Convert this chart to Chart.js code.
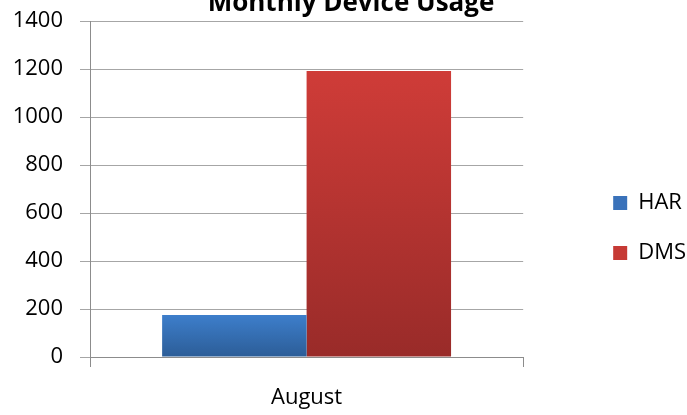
<!DOCTYPE html>
<html>
<head>
<meta charset="utf-8">
<script src="https://cdn.jsdelivr.net/npm/chart.js@4.4.1/dist/chart.umd.min.js"></script>
<style>
  html, body { margin: 0; padding: 0; background: #fff; }
  #wrap { width: 687px; height: 415px; overflow: hidden; position: relative; }
  #chart { position: absolute; left: 0; top: -25px; }
</style>
</head>
<body>
<div id="wrap"><canvas id="chart" width="687" height="440"></canvas></div>
<script>
// chart data
const categories = ['August'];
const harValues = [175];
const dmsValues = [1192];
const yTicks = [0, 200, 400, 600, 800, 1000, 1200, 1400];

const FONT = '"Open Sans", sans-serif';

// gradient per bar, top light -> bottom dark
function barFill(top, bottom, solid) {
    return function (ctx) {
        if (ctx.type !== 'data') return solid;
        const chart = ctx.chart;
        const y = chart.scales.y;
        if (!y) return solid;
        const y0 = y.getPixelForValue(0);
        const y1 = y.getPixelForValue(ctx.raw);
        const g = chart.ctx.createLinearGradient(0, y1, 0, y0);
        g.addColorStop(0, top);
        g.addColorStop(1, bottom);
        return g;
    };
}

// nudge the legend after layout so it sits lower, like the original
const legendNudge = {
    id: 'legendNudge',
    afterLayout: function (chart) {
        const lg = chart.legend;
        if (!lg) return;
        const dx = -6, dy = 33;
        lg.left += dx; lg.right += dx;
        lg.top += dy; lg.bottom += dy;
    }
};

var canvas = document.getElementById('chart');
var deviceChart = new Chart(canvas, {
    type: 'bar',
    data: {
        labels: categories,
        datasets: [{
            label: 'HAR',
            data: harValues,
            backgroundColor: barFill('#3d7ecb', '#2c5d97', '#3a72ba'),
            borderWidth: 0
        }, {
            label: 'DMS',
            data: dmsValues,
            backgroundColor: barFill('#cf3c38', '#992b29', '#c63a35'),
            borderWidth: 0
        }]
    },
    plugins: [legendNudge],
    options: {
        responsive: false,
        animation: false,
        layout: { padding: { left: 0, right: -15, top: 0, bottom: 0 } },
        datasets: {
            bar: { barPercentage: 1, categoryPercentage: 0.667 }
        },
        plugins: {
            title: {
                display: true,
                text: 'Monthly Device Usage',
                color: '#000',
                font: { family: FONT, size: 26, weight: 'bold' },
                padding: { top: 13, bottom: 2 }
            },
            legend: {
                position: 'right',
                labels: {
                    color: '#000',
                    font: { family: FONT, size: 22 },
                    boxWidth: 14,
                    boxHeight: 14,
                    padding: 28,
                    generateLabels: function (chart) {
                        const solids = ['#3a72ba', '#c63a35'];
                        return chart.data.datasets.map(function (ds, i) {
                            return {
                                text: ds.label,
                                fillStyle: solids[i],
                                strokeStyle: solids[i],
                                lineWidth: 0,
                                datasetIndex: i,
                                hidden: false,
                                fontColor: '#000'
                            };
                        });
                    }
                }
            },
            tooltip: { enabled: false }
        },
        scales: {
            x: {
                grid: {
                    display: true,
                    offset: true,
                    drawOnChartArea: false,
                    drawTicks: true,
                    tickLength: 10,
                    color: '#8c8c8c'
                },
                border: { display: true, color: '#8c8c8c' },
                ticks: {
                    color: '#000',
                    font: { family: FONT, size: 22 },
                    padding: 18
                },
                afterFit: function (s) { s.height = 58; }
            },
            y: {
                min: 0,
                max: 1400,
                afterBuildTicks: function (s) {
                    s.ticks = yTicks.map(v => ({ value: v }));
                },
                grid: {
                    color: '#a6a6a6',
                    tickLength: 10
                },
                border: { display: true, color: '#8c8c8c' },
                ticks: {
                    color: '#000',
                    font: { family: FONT, size: 22 },
                    padding: 17,
                    callback: function (v) { return String(v); }
                },
                afterFit: function (s) { s.width = 90; }
            },
            gap: {
                position: 'right',
                display: true,
                grid: { display: false },
                border: { display: false },
                ticks: { display: false },
                afterFit: function (s) { s.width = 68; }
            }
        }
    }
});
</script>
</body>
</html>
